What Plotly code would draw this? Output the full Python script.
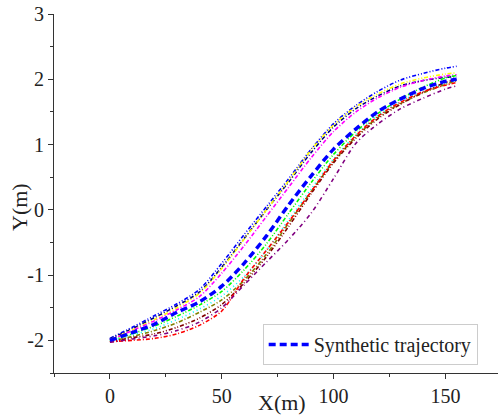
import plotly.graph_objects as go

x_grid = [0, 10, 20, 30, 40, 50, 60, 70, 80, 90, 100, 110, 120, 130, 140, 150, 155]

synthetic_y = [-2.00, -1.88, -1.75, -1.57, -1.41, -1.17, -0.82, -0.40, 0.08, 0.52, 0.93, 1.24, 1.51, 1.70, 1.86, 1.97, 2.00]

blue_y = [-1.97, -1.80, -1.62, -1.44, -1.22, -0.82, -0.38, 0.05, 0.48, 0.93, 1.32, 1.60, 1.82, 1.99, 2.09, 2.17, 2.20]
navy_y = [-1.98, -1.82, -1.65, -1.47, -1.26, -0.88, -0.44, 0.00, 0.43, 0.88, 1.27, 1.55, 1.75, 1.90, 1.98, 2.03, 2.04]
yellow_y = [-1.99, -1.84, -1.68, -1.50, -1.28, -0.90, -0.45, 0.00, 0.45, 0.92, 1.30, 1.58, 1.78, 1.93, 2.02, 2.08, 2.10]
magenta_y = [-2.00, -1.85, -1.70, -1.53, -1.33, -0.97, -0.55, -0.10, 0.35, 0.80, 1.20, 1.50, 1.72, 1.88, 1.98, 2.05, 2.07]
green_y = [-2.01, -1.90, -1.78, -1.63, -1.46, -1.25, -0.92, -0.52, -0.05, 0.42, 0.85, 1.20, 1.48, 1.70, 1.88, 2.02, 2.06]
cyan_y = [-2.01, -1.92, -1.82, -1.68, -1.52, -1.32, -1.02, -0.62, -0.15, 0.32, 0.78, 1.15, 1.45, 1.66, 1.82, 1.93, 1.97]
olive_y = [-2.02, -1.94, -1.85, -1.73, -1.57, -1.38, -1.08, -0.68, -0.20, 0.28, 0.74, 1.12, 1.42, 1.63, 1.79, 1.92, 1.98]
maroon_y = [-2.02, -1.96, -1.90, -1.80, -1.66, -1.45, -1.12, -0.72, -0.25, 0.25, 0.72, 1.10, 1.40, 1.62, 1.80, 1.95, 2.00]
red_y = [-2.02, -2.00, -1.97, -1.90, -1.77, -1.55, -1.05, -0.62, -0.18, 0.28, 0.76, 1.14, 1.44, 1.65, 1.81, 1.91, 1.95]
purple_y = [-2.03, -1.98, -1.93, -1.85, -1.72, -1.50, -1.15, -0.80, -0.45, -0.05, 0.48, 1.02, 1.32, 1.55, 1.71, 1.85, 1.90]

traj_names = ["blue", "navy", "yellow", "magenta", "green", "cyan", "olive", "maroon", "red", "purple"]
traj_values = [blue_y, navy_y, yellow_y, magenta_y, green_y, cyan_y, olive_y, maroon_y, red_y, purple_y]
traj_colors = ["#0000FF", "#000080", "#FFFF00", "#FF00FF", "#00FF00", "#00FFFF", "#808000", "#800000", "#FF0000", "#800080"]
traj_dash = ["4px,2px,1px,2px,1px,2px", "4px,2px,1px,2px", "4px,2px,1px,2px,1px,2px", "4px,2px,1px,2px",
             "4px,2px,1px,2px,1px,2px", "1px,3px", "4px,2px,1px,2px", "4px,2px,1px,2px,1px,2px",
             "4px,2px,1px,2px", "4px,3px,1px,3px"]

x_ticks = [0, 50, 100, 150]
y_ticks = [-2, -1, 0, 1, 2, 3]

font_family = "Liberation Serif, Times New Roman, serif"

fig = go.Figure()
for name, ys, col, dsh in zip(traj_names, traj_values, traj_colors, traj_dash):
    fig.add_trace(go.Scatter(x=x_grid, y=ys, mode="lines", name=name, showlegend=False,
                             line=dict(color=col, width=1.6, dash=dsh, shape="spline", smoothing=0.8)))

fig.add_trace(go.Scatter(x=x_grid, y=synthetic_y, mode="lines", name="Synthetic trajectory",
                         line=dict(color="#0000FF", width=3.5, dash="7px,4px", shape="spline", smoothing=0.8)))

fig.update_layout(
    width=498, height=416,
    margin=dict(l=54, r=0, t=14, b=43, autoexpand=False),
    paper_bgcolor="white", plot_bgcolor="white",
    font=dict(family=font_family, size=20, color="#222222"),
    showlegend=True,
    legend=dict(x=0.47, y=0.022, xanchor="left", yanchor="bottom",
                bgcolor="white", bordercolor="#cccccc", borderwidth=1,
                font=dict(family=font_family, size=20, color="#222222"),
                itemwidth=40, tracegroupgap=0),
    xaxis=dict(range=[-25, 173.5], showgrid=False, zeroline=False, automargin=False,
               showline=True, linecolor="#333333", linewidth=1.2,
               ticks="outside", ticklen=5, tickcolor="#333333",
               tickvals=x_ticks, ticktext=[str(v) for v in x_ticks],
               minor=dict(dtick=25, ticks="outside", ticklen=3, tickcolor="#333333", tick0=0)),
    yaxis=dict(range=[-2.5, 3], showgrid=False, zeroline=False, automargin=False,
               showline=True, linecolor="#333333", linewidth=1.2,
               ticks="outside", ticklen=5, tickcolor="#333333",
               tickvals=y_ticks, ticktext=[str(v) for v in y_ticks],
               minor=dict(dtick=0.5, ticks="outside", ticklen=3, tickcolor="#333333", tick0=0)),
    annotations=[
        dict(text="X(m)", xref="paper", yref="paper", x=(282 - 54) / 444, y=-(402 - 373) / 359,
             xanchor="center", yanchor="middle", showarrow=False,
             font=dict(family=font_family, size=22, color="#222222")),
        dict(text="Y(m)", xref="paper", yref="paper", x=-(54 - 19) / 444, y=(373 - 207) / 359,
             xanchor="center", yanchor="middle", showarrow=False, textangle=-90,
             font=dict(family=font_family, size=22, color="#222222")),
    ],
)

fig.write_html("out.html", config={"displayModeBar": False},
               post_script="document.body.style.margin='0';document.body.style.padding='0';")
